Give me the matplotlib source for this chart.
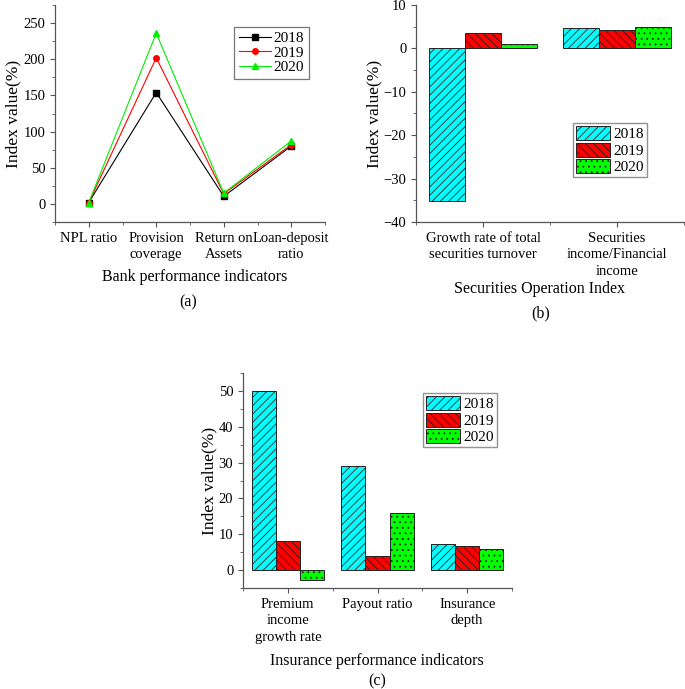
import matplotlib
matplotlib.use("Agg")
import matplotlib.pyplot as plt
import numpy as np

plt.rcParams['font.family'] = ['Liberation Serif', 'DejaVu Serif']
plt.rcParams['font.size'] = 10
plt.rcParams['hatch.linewidth'] = 0.6

years = ['2018', '2019', '2020']

# (a) bank indicators
bank_cats = ['NPL ratio', 'Provision\ncoverage', 'Return on\nAssets', 'Loan-deposit\nratio']
bank_2018 = [1.9, 154, 10.5, 80]
bank_2019 = [1.9, 202, 14, 82]
bank_2020 = [1.8, 236, 15, 87]

# (b) securities
sec_cats = ['Growth rate of total\nsecurities turnover', 'Securities\nincome/Financial\nincome']
sec_2018 = [-35.1, 4.6]
sec_2019 = [3.5, 4.3]
sec_2020 = [1.0, 4.9]

# (c) insurance
ins_cats = ['Premium\nincome\ngrowth rate', 'Payout ratio', 'Insurance\ndepth']
ins_2018 = [50.0, 29.0, 7.2]
ins_2019 = [8.2, 4.0, 6.8]
ins_2020 = [-2.7, 16.0, 6.0]

W, H = 685, 689
fig = plt.figure(figsize=(W / 100, H / 100), dpi=100)


def px_axes(left, right, top, bottom):
    return fig.add_axes([left / W, 1 - bottom / H, (right - left) / W, (bottom - top) / H])


def style(ax, n):
    for s in ['top', 'right']:
        ax.spines[s].set_visible(False)
    for s in ['left', 'bottom']:
        ax.spines[s].set_color('#555555')
        ax.spines[s].set_linewidth(0.9)
    ax.set_xlim(-0.5, n - 0.5)
    ax.set_xticks(np.arange(n))
    ax.set_xticks(np.arange(n + 1) - 0.5, minor=True)
    ax.tick_params(axis='both', which='both', direction='out', color='#555555', labelsize=10.5)
    ax.tick_params(axis='both', which='major', length=3.5)
    ax.tick_params(axis='both', which='minor', length=2.5)
    ax.set_ylabel('Index value(%)', fontsize=12.5, labelpad=1)


# ---- (a)
ax1 = px_axes(55, 325, 5, 222)
x = np.arange(len(bank_cats))
ax1.plot(x, bank_2018, color='black', marker='s', ms=4, lw=0.8, label='2018')
ax1.plot(x, bank_2019, color='red', marker='o', ms=4, lw=0.8, label='2019')
ax1.plot(x, bank_2020, color='#00ee00', marker='^', ms=4.5, lw=0.8, label='2020')
style(ax1, len(bank_cats))
ax1.set_ylim(-25, 275)
ax1.set_yticks([0, 50, 100, 150, 200, 250])
ax1.set_yticks(np.arange(-25, 276, 25), minor=True)
ax1.set_xticklabels(bank_cats, linespacing=1.35)
leg = ax1.legend(loc='upper left', bbox_to_anchor=(0.663, 0.899), borderaxespad=0,
                 fancybox=False, edgecolor='#555555', fontsize=11, handlelength=2.1,
                 handletextpad=0.2, labelspacing=0.05, borderpad=0.3)
leg.get_frame().set_linewidth(0.9)
fig.text(195 / W, 1 - 277 / H, 'Bank performance indicators', ha='center', va='center', fontsize=11.5)
fig.text(188 / W, 1 - 302 / H, '(a)', ha='center', va='center', fontsize=11.5)

bar_colors = ['#00ffff', '#ff0000', '#00ff00']
hatches = ['////', '\\\\\\\\', '...']
bw = 0.27


def bars(ax, series):
    n = len(series[0])
    x = np.arange(n)
    for i, (vals, yr) in enumerate(zip(series, years)):
        ax.bar(x + (i - 1) * bw, vals, bw, color=bar_colors[i], hatch=hatches[i],
               edgecolor='#222222', linewidth=0.7, label=yr)
    leg = ax.legend(loc='upper left', borderaxespad=0, fancybox=False, edgecolor='#777777',
                    fontsize=11, handlelength=2.2, handleheight=1.05, handletextpad=0.25,
                    labelspacing=0.08, borderpad=0.2)
    leg.get_frame().set_linewidth(1.0)
    return leg


# ---- (b)
ax2 = px_axes(416, 684, 5, 222)
bars(ax2, [sec_2018, sec_2019, sec_2020])
ax2.get_legend().set_bbox_to_anchor((0.586, 0.456))
style(ax2, len(sec_cats))
ax2.set_ylim(-40, 10)
ax2.set_yticks([-40, -30, -20, -10, 0, 10])
ax2.set_yticks(np.arange(-40, 11, 5), minor=True)
ax2.set_xticklabels(sec_cats, linespacing=1.35)
fig.text(540 / W, 1 - 289 / H, 'Securities Operation Index', ha='center', va='center', fontsize=11.5)
fig.text(541 / W, 1 - 313 / H, '(b)', ha='center', va='center', fontsize=11.5)

# ---- (c)
ax3 = px_axes(243, 512, 373, 588)
bars(ax3, [ins_2018, ins_2019, ins_2020])
ax3.get_legend().set_bbox_to_anchor((0.669, 0.907))
style(ax3, len(ins_cats))
ax3.set_ylim(-5, 55)
ax3.set_yticks([0, 10, 20, 30, 40, 50])
ax3.set_yticks(np.arange(-5, 56, 5), minor=True)
ax3.set_xticklabels(ins_cats, linespacing=1.35)
fig.text(377 / W, 1 - 661 / H, 'Insurance performance indicators', ha='center', va='center', fontsize=11.5)
fig.text(377 / W, 1 - 681 / H, '(c)', ha='center', va='center', fontsize=11.5)

fig.savefig('out.png', dpi=100)
